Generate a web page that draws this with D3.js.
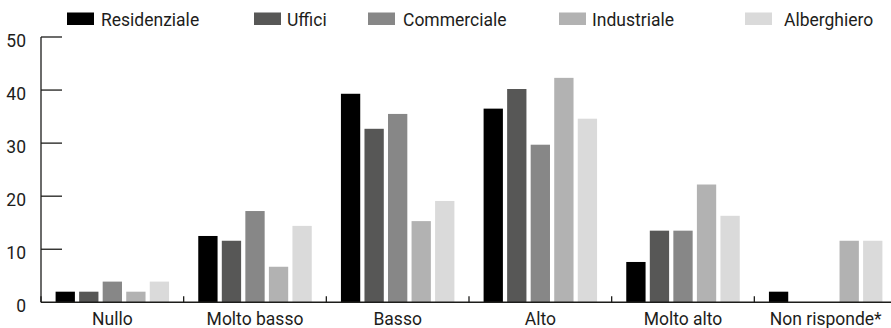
<!DOCTYPE html>
<html>
<head>
<meta charset="utf-8">
<script src="https://cdn.jsdelivr.net/npm/d3@7"></script>
<style>
  html, body { margin: 0; padding: 0; background: #fff; }
  svg text { font-family: Roboto, "Liberation Sans", sans-serif; fill: #1d1d1b; }
</style>
</head>
<body>
<svg id="chart" width="891" height="328"></svg>
<script>
const categories = ["Nullo", "Molto basso", "Basso", "Alto", "Molto alto", "Non risponde*"];
const seriesNames = ["Residenziale", "Uffici", "Commerciale", "Industriale", "Alberghiero"];
const seriesColors = ["#000000", "#575756", "#878787", "#b2b2b2", "#dadada"];
const residenziale = [2, 12.5, 39.3, 36.5, 7.6, 2];
const uffici      = [2, 11.6, 32.7, 40.2, 13.5, 0];
const commerciale = [3.9, 17.2, 35.5, 29.7, 13.5, 0];
const industriale = [2, 6.7, 15.3, 42.3, 22.2, 11.6];
const alberghiero = [3.9, 14.4, 19.1, 34.6, 16.3, 11.6];
const yTicks = [0, 10, 20, 30, 40, 50];

const seriesValues = [residenziale, uffici, commerciale, industriale, alberghiero];

const svg = d3.select("#chart");
const plotLeft = 41, plotRight = 897, plotTop = 37, plotBottom = 302.3;
const ink = "#1d1d1b";
const fontSize = 17.5;

const x = d3.scaleBand().domain(categories).range([plotLeft, plotRight]).paddingInner(0).paddingOuter(0);
const inner = d3.scaleBand().domain(seriesNames).range([0, x.bandwidth()]).paddingInner(0.18).paddingOuter(0.62);
const y = d3.scaleLinear().domain([0, 50]).range([plotBottom, plotTop]);

// bars
categories.forEach((cat, ci) => {
  const g = svg.append("g").attr("transform", `translate(${x(cat)},0)`);
  seriesNames.forEach((s, si) => {
    const v = seriesValues[si][ci];
    if (v <= 0) return;
    g.append("rect")
      .attr("x", inner(s))
      .attr("y", y(v))
      .attr("width", inner.bandwidth())
      .attr("height", y(0) - y(v))
      .attr("fill", seriesColors[si]);
  });
});

// y axis: line with inward ticks
const yAxis = svg.append("g");
yAxis.append("line").attr("x1", plotLeft).attr("x2", plotLeft).attr("y1", y(50)).attr("y2", y(0))
  .attr("stroke", ink).attr("stroke-width", 1.3);
yTicks.forEach(t => {
  if (t > 0) {
    yAxis.append("line").attr("x1", plotLeft).attr("x2", plotLeft + 21).attr("y1", y(t)).attr("y2", y(t))
      .attr("stroke", ink).attr("stroke-width", 1.3);
  }
  yAxis.append("text").attr("x", 26).attr("y", y(t) + 9.5)
    .attr("text-anchor", "end").attr("font-size", fontSize).text(t);
});

// x axis baseline with separators between groups
const xAxis = svg.append("g");
xAxis.append("line").attr("x1", plotLeft).attr("x2", 891).attr("y1", plotBottom).attr("y2", plotBottom)
  .attr("stroke", ink).attr("stroke-width", 1.6);
categories.forEach(cat => {
  xAxis.append("line").attr("x1", x(cat)).attr("x2", x(cat)).attr("y1", plotBottom).attr("y2", plotBottom - 6)
    .attr("stroke", ink).attr("stroke-width", 1.3);
  xAxis.append("text").attr("x", x(cat) + x.bandwidth() / 2).attr("y", plotBottom + 22.7)
    .attr("text-anchor", "middle").attr("font-size", fontSize).text(cat);
});

// legend
const legendX = [67, 254, 368, 559, 745];
const legendTextX = [101, 287, 403, 592, 784];
seriesNames.forEach((s, i) => {
  svg.append("rect").attr("x", legendX[i]).attr("y", 12.5).attr("width", 27).attr("height", 12.5)
    .attr("fill", seriesColors[i]);
  svg.append("text").attr("x", legendTextX[i]).attr("y", 25.7)
    .attr("font-size", fontSize).text(s);
});
</script>
</body>
</html>
